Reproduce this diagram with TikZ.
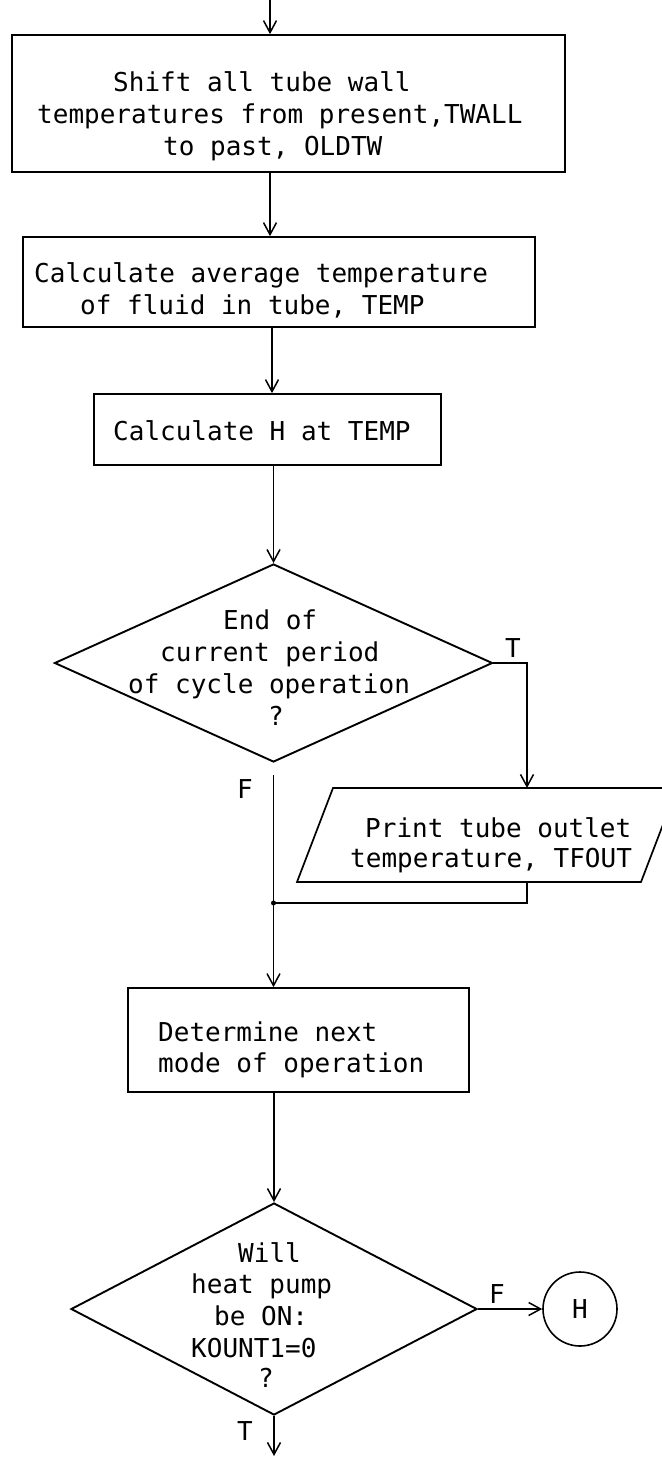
\documentclass[tikz,border=0pt]{standalone}
\usepackage{fontspec}
\setmonofont{DejaVu Sans Mono}
\usetikzlibrary{arrows.meta,shapes.geometric}
\begin{document}
\begin{tikzpicture}[x=1pt,y=-1pt,
  procbox/.style={draw, rectangle, line width=1.7pt, inner sep=0pt},
  decision/.style={draw, diamond, line width=1.9pt, inner sep=0pt},
  connector/.style={draw, circle, line width=1.6pt, inner sep=0pt, minimum size=74pt,
    font=\ttfamily\fontsize{26}{32}\selectfont},
  txt/.style={font=\ttfamily\fontsize{26}{32}\selectfont, inner sep=0pt, anchor=base west},
  lbl/.style={font=\ttfamily\fontsize{26}{32}\selectfont, inner sep=0pt, anchor=base},
  flow/.style={line width=1.5pt, -{Straight Barb[length=12pt,width=13pt,line width=1.5pt]}},
  link/.style={line width=1.5pt}
]
\useasboundingbox (0,0) rectangle (661,1458);
\fill[white] (0,0) rectangle (661,1458);

% process boxes and decisions
\node[procbox, minimum width=553pt, minimum height=137pt] (box1) at (288.5,103.5) {};
\node[procbox, minimum width=512pt, minimum height=90pt]  (box2) at (279,282) {};
\node[procbox, minimum width=347pt, minimum height=71pt]  (box3) at (267.5,429.5) {};
\node[decision, minimum width=438pt, minimum height=198pt] (d1) at (273.5,663) {};
\node[procbox, minimum width=341pt, minimum height=104pt] (box4) at (298.5,1040) {};
\node[decision, minimum width=406pt, minimum height=212pt] (d2) at (274,1309) {};
\node[connector] (H) at (580,1309) {H};

% output (print) parallelogram
\coordinate (prtop) at (527,788);
\coordinate (prbot) at (527,882);
\draw[line width=1.7pt] (333,788) -- (677,788) -- (641,882) -- (297,882) -- cycle;

% texts
\node[txt] (b1a) at (113,92)  {Shift all tube wall};
\node[txt] (b1b) at (37,124)  {temperatures from present,TWALL};
\node[txt] (b1c) at (163,156) {to past, OLDTW};
\node[txt] (b2a) at (34,282)  {Calculate average temperature};
\node[txt] (b2b) at (80,314)  {of fluid in tube, TEMP};
\node[txt] (b3a) at (113,440) {Calculate H at TEMP};
\node[txt] (d1a) at (223,629) {End of};
\node[txt] (d1b) at (160,661) {current period};
\node[txt] (d1c) at (128,693) {of cycle operation};
\node[txt] (d1d) at (268,725) {?};
\node[txt] (p1)  at (365,837) {Print tube outlet};
\node[txt] (p2)  at (350,867) {temperature, TFOUT};
\node[txt] (b4a) at (158,1041) {Determine next};
\node[txt] (b4b) at (158,1072) {mode of operation};
\node[txt] (d2a) at (238,1262) {Will};
\node[txt] (d2b) at (191,1293) {heat pump};
\node[txt] (d2c) at (214,1325) {be ON:};
\node[txt] (d2d) at (191,1357) {KOUNT1=0};
\node[txt] (d2e) at (258,1387) {?};

% branch labels
\node[lbl] (t1) at (513,657)  {T};
\node[lbl] (f1) at (245,798)  {F};
\node[lbl] (f2) at (497,1303) {F};
\node[lbl] (t2) at (245,1440) {T};

% connectors
\coordinate (in0) at (270,0);
\coordinate (sp2) at (272,0);
\draw[flow] (in0) -- (in0 |- box1.north);
\draw[flow] (box1.south -| in0) -- (box2.north -| in0);
\draw[flow] (box2.south -| sp2) -- (box3.north -| sp2);
\draw[flow] (box3.south -| d1.north) -- (d1.north);
\coordinate (tx) at (527,663);
\draw[flow] (d1.east) -- (tx) -- (prtop);
\coordinate (jr) at (527,903);
\coordinate (jn) at (d1.south |- jr);
\draw[link] (prbot) -- (jr) -- (jn);
\fill (jn) circle (2.5pt);
\draw[flow] ([yshift=-12pt]d1.south) -- (box4.north -| d1.south);
\draw[flow] (box4.south -| d2.north) -- (d2.north);
\draw[flow] (d2.east) -- (H.west);
\coordinate (out) at (274,1456);
\draw[flow] (d2.south) -- (out);
\end{tikzpicture}
\end{document}
